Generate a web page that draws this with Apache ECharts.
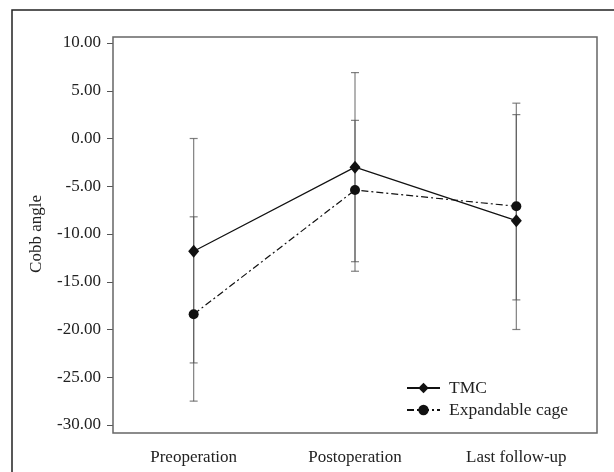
<!DOCTYPE html>
<html>
<head>
<meta charset="utf-8">
<script src="https://cdn.jsdelivr.net/npm/echarts@6/dist/echarts.min.js"></script>
<style>
  html, body { margin: 0; padding: 0; background: #fff; }
  #chart-container { width: 614px; height: 472px; }
</style>
</head>
<body>
<div id="chart-container"></div>
<script>
'use strict';

const stages = ['Preoperation', 'Postoperation', 'Last follow-up'];
const tmcMean = [-11.8, -3.0, -8.6];
const cageMean = [-18.4, -5.4, -7.1];
const tmcLow = [-23.5, -12.9, -20.0];
const tmcHigh = [0.0, 6.9, 3.7];
const cageLow = [-27.5, -13.9, -16.9];
const cageHigh = [-8.2, 1.9, 2.5];

const serif = '"Liberation Serif", "DejaVu Serif", serif';

function errorBars(low, high) {
    return low.map((v, i) => [i, v, high[i]]);
}

function renderBar(params, api) {
    const lo = api.coord([api.value(0), api.value(1)]);
    const hi = api.coord([api.value(0), api.value(2)]);
    const half = 4;
    const style = { stroke: '#555', lineWidth: 1.2, opacity: 0.75 };
    return {
        type: 'group',
        children: [
            { type: 'line', shape: { x1: lo[0], y1: lo[1], x2: hi[0], y2: hi[1] }, style: style },
            { type: 'line', shape: { x1: lo[0] - half, y1: lo[1], x2: lo[0] + half, y2: lo[1] }, style: style },
            { type: 'line', shape: { x1: hi[0] - half, y1: hi[1], x2: hi[0] + half, y2: hi[1] }, style: style }
        ]
    };
}

const myChart = echarts.init(document.getElementById('chart-container'), null, { renderer: 'canvas' });

const option = {
    backgroundColor: '#fff',
    animation: false,
    textStyle: { fontFamily: serif },
    graphic: [
        // outer frame
        { type: 'rect', shape: { x: 12, y: 10, width: 700, height: 700 },
          style: { fill: 'none', stroke: '#222', lineWidth: 1.5 }, silent: true },
        // plot box
        { type: 'rect', shape: { x: 113, y: 37, width: 484, height: 396 },
          style: { fill: 'none', stroke: '#666', lineWidth: 1.5 }, silent: true, z: 10 }
    ],
    grid: { left: 113, right: 17, top: 43, bottom: 47 },
    legend: {
        left: 401,
        top: 374,
        orient: 'vertical',
        itemWidth: 33,
        itemHeight: 13,
        itemGap: 4,
        data: ['TMC', 'Expandable cage'],
        textStyle: { fontFamily: serif, fontSize: 17.5, color: '#222', padding: [0, 0, 0, 4] }
    },
    xAxis: {
        type: 'category',
        data: stages,
        offset: 8,
        axisLine: { show: false },
        axisTick: { alignWithLabel: true, length: 6, lineStyle: { color: '#555' } },
        axisLabel: { fontFamily: serif, fontSize: 17, color: '#222', margin: 16 }
    },
    yAxis: {
        type: 'value',
        name: 'Cobb angle',
        nameLocation: 'middle',
        nameRotate: 90,
        nameGap: 68,
        nameTextStyle: { fontFamily: serif, fontSize: 17, color: '#222' },
        min: -30,
        max: 10,
        interval: 5,
        splitLine: { show: false },
        axisLine: { show: false },
        axisTick: { show: true, length: 6, lineStyle: { color: '#555' } },
        axisLabel: { fontFamily: serif, fontSize: 17, color: '#222', margin: 12,
                     formatter: (v) => v.toFixed(2) }
    },
    series: [
        {
            type: 'custom',
            renderItem: renderBar,
            data: errorBars(tmcLow, tmcHigh),
            z: 1
        },
        {
            type: 'custom',
            renderItem: renderBar,
            data: errorBars(cageLow, cageHigh),
            z: 1
        },
        {
            name: 'TMC',
            type: 'line',
            data: tmcMean,
            symbol: 'diamond',
            symbolSize: [11, 13],
            itemStyle: { color: '#111' },
            lineStyle: { color: '#111', width: 1.2, type: 'solid' },
            z: 5
        },
        {
            name: 'Expandable cage',
            type: 'line',
            data: cageMean,
            symbol: 'circle',
            symbolSize: 10,
            itemStyle: { color: '#111' },
            lineStyle: { color: '#111', width: 1.2, type: [7, 3, 2, 3] },
            z: 5
        }
    ]
};
myChart.setOption(option);

window.addEventListener('resize', myChart.resize);
</script>
</body>
</html>
